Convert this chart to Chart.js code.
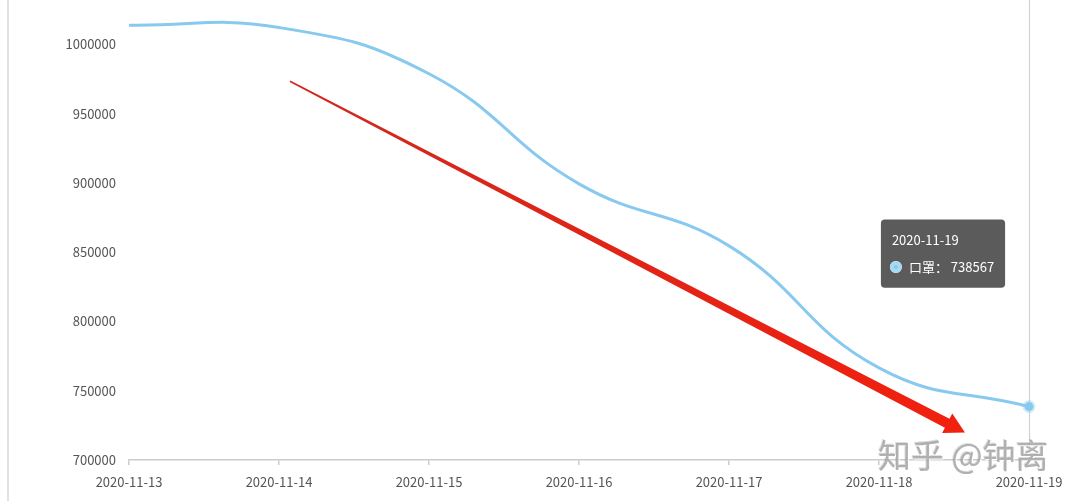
<!DOCTYPE html>
<html>
<head>
<meta charset="utf-8">
<script src="https://cdn.jsdelivr.net/npm/chart.js@4.4.0/dist/chart.umd.min.js"></script>
<style>
  html, body { margin: 0; padding: 0; background: #fff; }
  #wrap { position: relative; width: 1076px; height: 501px; }
  #edge { position: absolute; left: 7px; top: 0; width: 2px; height: 501px; background: #e2e2e2; }
  #wm { position: absolute; left: 878px; top: 430px; font-family: "Noto Sans CJK SC", sans-serif;
        font-size: 33px; color: rgba(165,165,165,0.85); text-shadow: 1px 1px 0 #fff, -1px -1px 0 rgba(120,120,120,0.25);
        white-space: nowrap; }
</style>
</head>
<body>
<div id="wrap">
  <canvas id="c" width="1076" height="501"></canvas>
  <div id="edge"></div>
  <div id="wm">知乎 @钟离</div>
</div>
<script>
const categories = ['2020-11-13', '2020-11-14', '2020-11-15', '2020-11-16', '2020-11-17', '2020-11-18', '2020-11-19'];
const seriesName = '口罩';
const maskValues = [1014000, 1012300, 978900, 899400, 854600, 766500, 738567];
const yTicks = [700000, 750000, 800000, 850000, 900000, 950000, 1000000];
const yMin = 700000;
const yMax = 1030000;
const activeIndex = 6;
// arrow annotation in data units: [category index, value]
const arrowFrom = [1.073, 973500];
const arrowTo = [5.573, 719900];

const lineColor = '#88c9ef';
const font = '"Noto Sans CJK SC", "Noto Sans", sans-serif';

Chart.Tooltip.positioners.fixedOffset = function (elements) {
  if (!elements.length) return false;
  const el = elements[0].element;
  return { x: el.x - 86, y: el.y - 153 };
};

const pointerLine = {
  id: 'pointerLine',
  beforeDatasetsDraw(chart) {
    const act = chart.getActiveElements();
    if (!act.length) return;
    const x = act[0].element.x;
    const ctx = chart.ctx;
    ctx.save();
    ctx.strokeStyle = '#d2d2d2';
    ctx.lineWidth = 1.2;
    ctx.beginPath();
    ctx.moveTo(Math.round(x) + 0.5, 0);
    ctx.lineTo(Math.round(x) + 0.5, chart.chartArea.bottom);
    ctx.stroke();
    ctx.restore();
  }
};

const arrowPlugin = {
  id: 'arrow',
  afterDatasetsDraw(chart) {
    const xs = chart.scales.x, ys = chart.scales.y;
    const x0 = xs.getPixelForValue(arrowFrom[0]), y0 = ys.getPixelForValue(arrowFrom[1]);
    const x1 = xs.getPixelForValue(arrowTo[0]), y1 = ys.getPixelForValue(arrowTo[1]);
    const dx = x1 - x0, dy = y1 - y0, len = Math.hypot(dx, dy);
    const ux = dx / len, uy = dy / len, nx = -uy, ny = ux;
    const headLen = 20, headHalf = 11, shaftEnd = 5, shaftStart = 0.8;
    const bx = x1 - ux * headLen, by = y1 - uy * headLen;
    const ctx = chart.ctx;
    ctx.save();
    const grad = ctx.createLinearGradient(x0, y0, x1, y1);
    grad.addColorStop(0, '#d0281e');
    grad.addColorStop(1, '#f2200f');
    ctx.fillStyle = grad;
    ctx.beginPath();
    ctx.moveTo(x0 + nx * shaftStart, y0 + ny * shaftStart);
    ctx.lineTo(bx + nx * shaftEnd, by + ny * shaftEnd);
    ctx.lineTo(bx + nx * headHalf, by + ny * headHalf);
    ctx.lineTo(x1, y1);
    ctx.lineTo(bx - nx * headHalf, by - ny * headHalf);
    ctx.lineTo(bx - nx * shaftEnd, by - ny * shaftEnd);
    ctx.lineTo(x0 - nx * shaftStart, y0 - ny * shaftStart);
    ctx.closePath();
    ctx.fill();
    ctx.restore();
  }
};

const chart = new Chart(document.getElementById('c'), {
  type: 'line',
  data: {
    labels: categories,
    datasets: [{
      label: seriesName,
      data: maskValues,
      borderColor: lineColor,
      backgroundColor: lineColor,
      borderWidth: 3,
      tension: 0.45,
      pointRadius: 0,
      pointHoverRadius: 4.5,
      pointHoverBackgroundColor: lineColor,
      pointHoverBorderColor: 'rgba(136,201,239,0.35)',
      pointHoverBorderWidth: 4,
      fill: false,
      clip: false
    }]
  },
  options: {
    responsive: false,
    animation: false,
    events: [],
    layout: { autoPadding: false, padding: { top: 3, right: 47, bottom: 0, left: 0 } },
    scales: {
      x: {
        offset: false,
        grid: { display: true, drawOnChartArea: false, drawTicks: true, tickLength: 5, color: '#cccccc', lineWidth: 1.5 },
        border: { display: true, color: '#cccccc', width: 1.5 },
        ticks: { color: '#555', font: { family: font, size: 13 }, padding: 9, maxRotation: 0, autoSkip: false },
        afterFit(scale) { scale.height = 41; scale.paddingLeft = 0; scale.paddingRight = 0; }
      },
      y: {
        min: yMin,
        max: yMax,
        grid: { display: false, drawTicks: false },
        border: { display: false },
        ticks: { color: '#555', font: { family: font, size: 13 }, padding: 13, stepSize: 50000,
                 callback: v => String(v) },
        afterBuildTicks(scale) { scale.ticks = yTicks.map(v => ({ value: v })); },
        afterFit(scale) { scale.width = 129; scale.paddingTop = 0; scale.paddingBottom = 0; }
      }
    },
    plugins: {
      legend: { display: false },
      tooltip: {
        enabled: true,
        position: 'fixedOffset',
        xAlign: 'center',
        yAlign: 'center',
        caretSize: 0,
        caretPadding: 0,
        backgroundColor: 'rgba(50,50,50,0.8)',
        cornerRadius: 4,
        padding: { top: 13, bottom: 13, left: 11, right: 11 },
        titleColor: '#fff',
        bodyColor: '#fff',
        titleFont: { family: font, size: 13, weight: 'normal' },
        bodyFont: { family: font, size: 13, weight: 'normal' },
        titleMarginBottom: 11,
        displayColors: true,
        usePointStyle: true,
        boxWidth: 8,
        boxHeight: 8,
        boxPadding: 7,
        callbacks: {
          title: items => items[0].label,
          label: item => item.dataset.label + '： ' + item.raw,
          labelColor: () => ({ borderColor: '#a9d8f3', backgroundColor: lineColor, borderWidth: 1 }),
          labelPointStyle: () => ({ pointStyle: 'circle', rotation: 0 })
        }
      }
    }
  },
  plugins: [pointerLine, arrowPlugin]
});

const act = [{ datasetIndex: 0, index: activeIndex }];
chart.setActiveElements(act);
const el = chart.getDatasetMeta(0).data[activeIndex];
chart.tooltip.setActiveElements(act, { x: el.x, y: el.y });
chart.update();
</script>
</body>
</html>
